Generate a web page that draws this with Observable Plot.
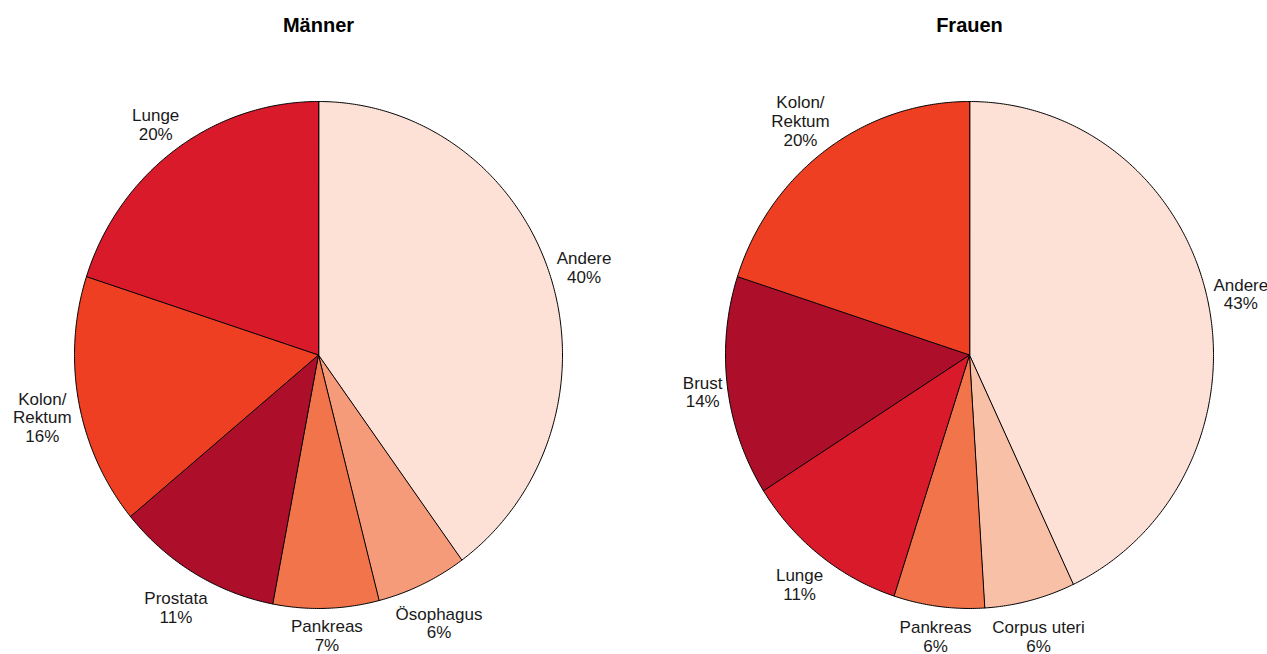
<!DOCTYPE html>
<html lang="de">
<head>
<meta charset="utf-8">
<script src="https://cdn.jsdelivr.net/npm/d3@7"></script>
<script src="https://cdn.jsdelivr.net/npm/@observablehq/plot@0.6"></script>
<style>
  html, body { margin: 0; padding: 0; background: #fff; }
  #chart svg { display: block; }
</style>
</head>
<body>
<div id="chart"></div>
<script>
// Anteile der Krebstodesfälle nach Lokalisation, getrennt nach Geschlecht
const gruppen = ["Männer", "Frauen"];

const maennerKategorien = ["Andere", "Ösophagus", "Pankreas", "Prostata", "Kolon/Rektum", "Lunge"];
const maennerAnteile    = [40, 6, 7, 11, 16, 20];

const frauenKategorien  = ["Andere", "Corpus uteri", "Pankreas", "Lunge", "Brust", "Kolon/Rektum"];
const frauenAnteile     = [43, 6, 6, 11, 14, 20];

const farbKategorien = ["Andere", "Corpus uteri", "Ösophagus", "Pankreas", "Kolon/Rektum", "Lunge", "Prostata", "Brust"];
const farben         = ["#fde0d6", "#f9c0a8", "#f69b7a", "#f1744a", "#ee3f23", "#d91a2a", "#ad0f2b", "#ad0f2b"];

// Layout
const W = 1267, H = 654;
const mTop = 63, mBottom = 8, mLeft = 20, mRight = 0;
const padInner = 55 / 651;
const kx = 244;                                   // px per unit, horizontal
const yHalf = 1.15;
const ky = (H - mTop - mBottom) / (2 * yHalf);    // px per unit, vertical
const step = (W - mLeft - mRight) / (2 - padInner);
const bandwidth = step * (1 - padInner);
const xHalf = bandwidth / (2 * kx);

const fontSize = 17, lineHeight = 1.1;
const lineStep = fontSize * lineHeight;
const fontFamily = "'Liberation Sans', Arial, Helvetica, sans-serif";
const ctx = document.createElement("canvas").getContext("2d");
ctx.font = `${fontSize}px ${fontFamily}`;

const serien = [
  {gruppe: "Männer", kategorien: maennerKategorien, anteile: maennerAnteile},
  {gruppe: "Frauen", kategorien: frauenKategorien, anteile: frauenAnteile}
];

const pie = d3.pie().sort(null).startAngle(0).endAngle(2 * Math.PI);

const flaechen = [];   // polygon vertices of every slice
const labels = [];     // label anchor per slice

for (const s of serien) {
  const rows = s.kategorien.map((k, i) => ({kategorie: k, anteil: s.anteile[i]}));
  for (const arc of pie.value(d => d.anteil)(rows)) {
    const {kategorie, anteil} = arc.data;
    const id = s.gruppe + "|" + kategorie;
    flaechen.push({gruppe: s.gruppe, id, kategorie, x: 0, y: 0});
    const n = Math.max(2, Math.ceil((arc.endAngle - arc.startAngle) / (Math.PI / 360)));
    for (let j = 0; j <= n; ++j) {
      const a = arc.startAngle + (arc.endAngle - arc.startAngle) * j / n;
      flaechen.push({gruppe: s.gruppe, id, kategorie, x: Math.sin(a), y: Math.cos(a)});
    }

    // label: name (wrapped after "/") over percentage, placed just outside
    // the rim along the mid-angle; longer labels sit a little lower
    const text = kategorie.replace("/", "/\n") + "\n" + anteil + "%";
    const lines = text.split("\n");
    const w = d3.max(lines, l => ctx.measureText(l).width);
    const h = lines.length * lineStep + 6;
    const mid = (arc.startAngle + arc.endAngle) / 2;
    const ox = kx * Math.sin(mid), oy = -ky * Math.cos(mid);
    const R = Math.hypot(ox, oy);
    const ux = ox / R, uy = oy / R;
    const dist = R * 1.01 + Math.abs(ux) * w / 2 + Math.abs(uy) * h / 2;
    const px = ux * dist;
    const py = uy * dist + 2 + (lines.length - 2) * lineStep * 0.3;
    labels.push({gruppe: s.gruppe, text, x: px / kx, y: -py / ky});
  }
}

const chart = Plot.plot({
  width: W,
  height: H,
  marginTop: mTop,
  marginBottom: mBottom,
  marginLeft: mLeft,
  marginRight: mRight,
  style: {fontFamily, background: "#fff", overflow: "visible"},
  fx: {domain: gruppen, paddingInner: padInner, paddingOuter: 0, axis: null},
  x: {domain: [-xHalf, xHalf], axis: null},
  y: {domain: [-yHalf, yHalf], axis: null},
  color: {domain: farbKategorien, range: farben},
  marks: [
    Plot.line(flaechen, {
      fx: "gruppe", x: "x", y: "y", z: "id",
      fill: "kategorie", stroke: "#000", strokeWidth: 1,
      strokeLinejoin: "round", curve: "linear-closed"
    }),
    Plot.text(labels, {
      fx: "gruppe", x: "x", y: "y", text: "text",
      fontSize, lineHeight, fill: "#1a1a1a",
      textAnchor: "middle", lineAnchor: "middle"
    }),
    Plot.text(gruppen, {
      fx: d => d, text: d => d, frameAnchor: "top", dy: -38,
      fontSize: 20, fontWeight: "bold", fill: "#000", lineAnchor: "middle"
    })
  ]
});

document.getElementById("chart").append(chart);
</script>
</body>
</html>
